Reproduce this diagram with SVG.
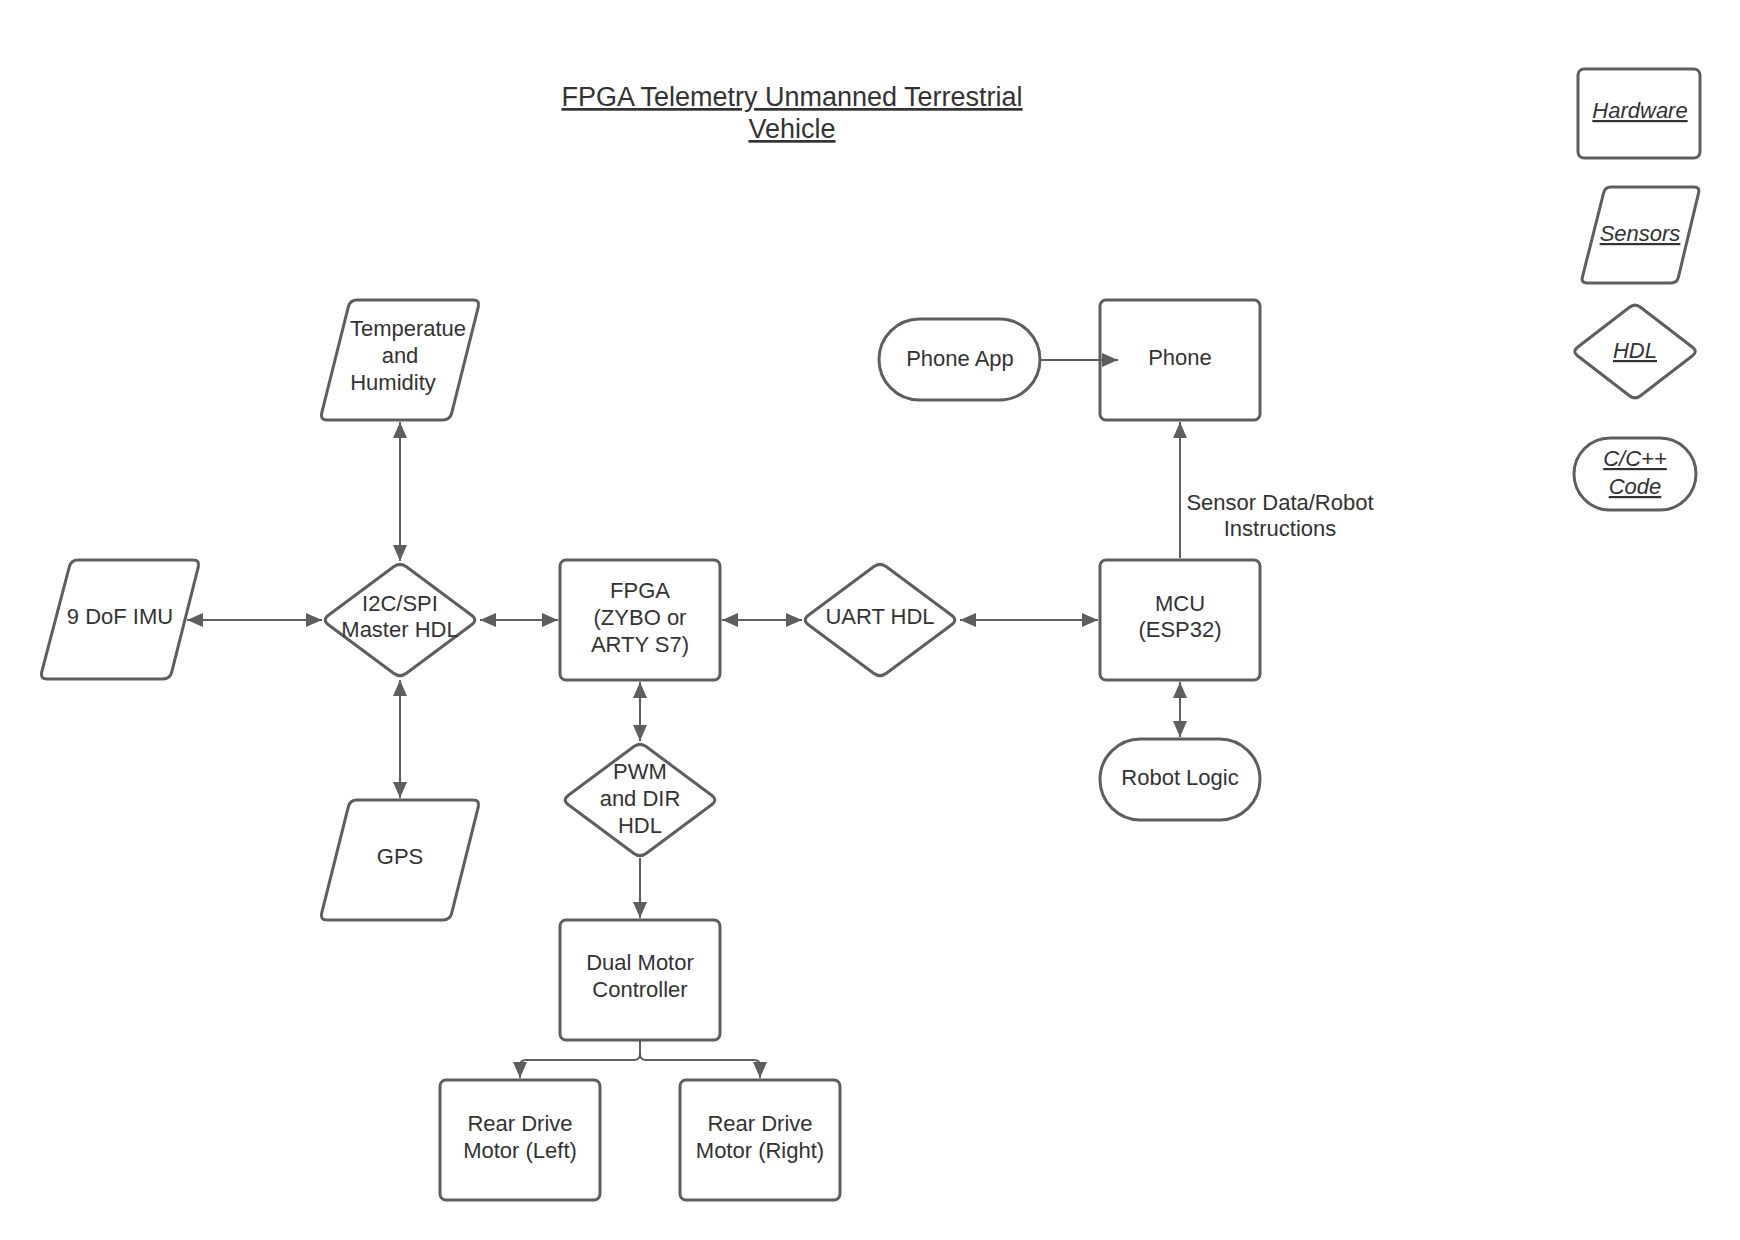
<svg xmlns="http://www.w3.org/2000/svg" width="1740" height="1240" viewBox="0 0 1740 1240">
<defs>
<style>
.shape{fill:#ffffff;stroke:#5e5e5e;stroke-width:3;stroke-linejoin:round}
.conn{fill:none;stroke:#5e5e5e;stroke-width:2}
.t{font-family:"Liberation Sans",Arial,sans-serif;font-size:22px;fill:#333333;text-anchor:middle}
.title{font-family:"Liberation Sans",Arial,sans-serif;font-size:27px;fill:#333333;text-anchor:middle;text-decoration:underline}
.leg{font-style:italic;text-decoration:underline}
</style>
<marker id="ah" viewBox="0 0 16 14" markerWidth="16" markerHeight="14" refX="16" refY="7" orient="auto-start-reverse" markerUnits="userSpaceOnUse">
<path d="M0,0 L16,7 L0,14 z" fill="#5e5e5e"/>
</marker>
</defs>
<rect width="1740" height="1240" fill="#ffffff"/>

<g id="title">
<text class="title" x="792" y="106">FPGA Telemetry Unmanned Terrestrial </text>
<text class="title" x="792" y="138">Vehicle</text>
</g>

<g id="temp">
<path class="shape" d="M357,300 L473,300 Q480,300 478.3,306.8 L451.7,413.2 Q450,420 443,420 L327,420 Q320,420 321.7,413.2 L348.3,306.8 Q350,300 357,300 Z"/>
<text class="t" x="408" y="336">Temperatue</text>
<text class="t" x="400" y="363">and</text>
<text class="t" x="393" y="390">Humidity</text>
</g>

<g id="imu">
<path class="shape" d="M78,560 L193,560 Q200,560 198.3,566.8 L171.7,672.2 Q170,679 163,679 L47,679 Q40,679 41.7,672.2 L69.3,566.8 Q71,560 78,560 Z"/>
<text class="t" x="120" y="624">9 DoF IMU</text>
</g>

<g id="i2c">
<path class="shape" d="M406.4,566.8 L471.6,615.2 Q478,620 471.6,624.8 L406.4,673.2 Q400,678 393.6,673.2 L328.4,624.8 Q322,620 328.4,615.2 L393.6,566.8 Q400,562 406.4,566.8 Z"/>
<text class="t" x="400" y="611">I2C/SPI</text>
<text class="t" x="400" y="637">Master HDL</text>
</g>

<g id="gps">
<path class="shape" d="M357,800 L473,800 Q480,800 478.3,806.8 L451.7,913.2 Q450,920 443,920 L327,920 Q320,920 321.7,913.2 L348.3,806.8 Q350,800 357,800 Z"/>
<text class="t" x="400" y="864">GPS</text>
</g>

<g id="fpga">
<rect class="shape" x="560" y="560" width="160" height="120" rx="6"/>
<text class="t" x="640" y="598">FPGA</text>
<text class="t" x="640" y="625">(ZYBO or</text>
<text class="t" x="640" y="652">ARTY S7)</text>
</g>

<g id="uart">
<path class="shape" d="M886.4,566.8 L951.6,615.2 Q958,620 951.6,624.8 L886.4,673.2 Q880,678 873.6,673.2 L808.4,624.8 Q802,620 808.4,615.2 L873.6,566.8 Q880,562 886.4,566.8 Z"/>
<text class="t" x="880" y="624">UART HDL</text>
</g>

<g id="mcu">
<rect class="shape" x="1100" y="560" width="160" height="120" rx="6"/>
<text class="t" x="1180" y="611">MCU</text>
<text class="t" x="1180" y="637">(ESP32)</text>
</g>

<g id="phone">
<rect class="shape" x="1100" y="300" width="160" height="120" rx="6"/>
<text class="t" x="1180" y="365">Phone</text>
</g>

<g id="phoneapp">
<rect class="shape" x="879" y="319" width="161" height="81" rx="40.5"/>
<text class="t" x="960" y="366">Phone App</text>
</g>

<g id="robotlogic">
<rect class="shape" x="1100" y="739" width="160" height="81" rx="40.5"/>
<text class="t" x="1180" y="785">Robot Logic</text>
</g>

<g id="pwm">
<path class="shape" d="M646.4,746.8 L711.6,795.2 Q718,800 711.6,804.8 L646.4,853.2 Q640,858 633.6,853.2 L568.4,804.8 Q562,800 568.4,795.2 L633.6,746.8 Q640,742 646.4,746.8 Z"/>
<text class="t" x="640" y="779">PWM</text>
<text class="t" x="640" y="806">and DIR</text>
<text class="t" x="640" y="833">HDL</text>
</g>

<g id="dualmotor">
<rect class="shape" x="560" y="920" width="160" height="120" rx="6"/>
<text class="t" x="640" y="970">Dual Motor</text>
<text class="t" x="640" y="997">Controller</text>
</g>

<g id="rearleft">
<rect class="shape" x="440" y="1080" width="160" height="120" rx="6"/>
<text class="t" x="520" y="1131">Rear Drive</text>
<text class="t" x="520" y="1158">Motor (Left)</text>
</g>

<g id="rearright">
<rect class="shape" x="680" y="1080" width="160" height="120" rx="6"/>
<text class="t" x="760" y="1131">Rear Drive</text>
<text class="t" x="760" y="1158">Motor (Right)</text>
</g>

<g id="legend-hardware">
<rect class="shape" x="1578" y="69" width="122" height="89" rx="6"/>
<text class="t leg" x="1640" y="118">Hardware</text>
</g>

<g id="legend-sensors">
<path class="shape" d="M1611,187 L1694,187 Q1700,187 1698.6,192.8 L1678.4,277.2 Q1677,283 1671,283 L1587,283 Q1581,283 1582.4,277.2 L1603.6,192.8 Q1605,187 1611,187 Z"/>
<text class="t leg" x="1640" y="241">Sensors</text>
</g>

<g id="legend-hdl">
<path class="shape" d="M1640.5,307.3 L1692.5,347.2 Q1698,351.5 1692.5,355.8 L1640.5,395.7 Q1635,400 1629.5,395.7 L1577.5,355.8 Q1572,351.5 1577.5,347.2 L1629.5,307.3 Q1635,303 1640.5,307.3 Z"/>
<text class="t leg" x="1635" y="358">HDL</text>
</g>

<g id="legend-code">
<rect class="shape" x="1574" y="438" width="122" height="72" rx="36"/>
<text class="t leg" x="1635" y="466">C/C++</text>
<text class="t leg" x="1635" y="494">Code</text>
</g>

<g id="connectors">
<line class="conn" x1="187" y1="620" x2="322" y2="620" marker-start="url(#ah)" marker-end="url(#ah)"/>
<line class="conn" x1="480" y1="620" x2="558" y2="620" marker-start="url(#ah)" marker-end="url(#ah)"/>
<line class="conn" x1="722" y1="620" x2="802" y2="620" marker-start="url(#ah)" marker-end="url(#ah)"/>
<line class="conn" x1="960" y1="620" x2="1098" y2="620" marker-start="url(#ah)" marker-end="url(#ah)"/>
<line class="conn" x1="400" y1="422" x2="400" y2="561" marker-start="url(#ah)" marker-end="url(#ah)"/>
<line class="conn" x1="400" y1="680" x2="400" y2="798" marker-start="url(#ah)" marker-end="url(#ah)"/>
<line class="conn" x1="640" y1="682" x2="640" y2="741" marker-start="url(#ah)" marker-end="url(#ah)"/>
<line class="conn" x1="640" y1="858" x2="640" y2="918" marker-end="url(#ah)"/>
<line class="conn" x1="1180" y1="682" x2="1180" y2="737" marker-start="url(#ah)" marker-end="url(#ah)"/>
<line class="conn" x1="1180" y1="558" x2="1180" y2="422" marker-end="url(#ah)"/>
<line class="conn" x1="1041" y1="360" x2="1118" y2="360" marker-end="url(#ah)"/>
<path class="conn" d="M640,1040 L640,1054 Q640,1060 634,1060 L526,1060 Q520,1060 520,1066 L520,1078" marker-end="url(#ah)"/>
<path class="conn" d="M640,1054 Q640,1060 646,1060 L754,1060 Q760,1060 760,1066 L760,1078" marker-end="url(#ah)"/>
<text class="t" x="1280" y="510">Sensor Data/Robot</text>
<text class="t" x="1280" y="536">Instructions</text>
</g>
</svg>
